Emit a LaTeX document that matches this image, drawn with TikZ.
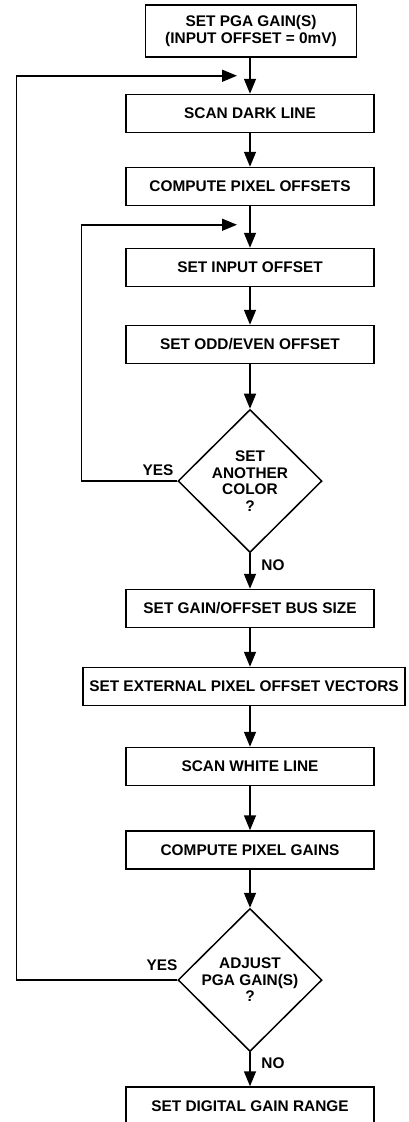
\documentclass[tikz,border=0pt]{standalone}
\usepackage{fontspec}
\setmainfont{Liberation Sans}
\usetikzlibrary{arrows.meta,shapes.geometric,calc}
\begin{document}
\begin{tikzpicture}[x=1pt,y=-1pt,
  every node/.style={font=\bfseries\fontsize{15.4}{16.6}\selectfont, align=center},
  box/.style={draw, line width=1.5pt, rectangle, minimum width=248pt, minimum height=38pt, inner sep=0pt},
  dia/.style={draw, line width=1.5pt, diamond, minimum width=144pt, minimum height=143pt, inner sep=0pt},
  lbl/.style={inner sep=0pt},
  flow/.style={line width=1.5pt, -{Triangle[length=15pt,width=12pt]}}]
\useasboundingbox (0,0) rectangle (408,1122);
\node[box, minimum width=211pt, minimum height=52pt] (b1) at (251,31) {SET PGA GAIN(S)\\(INPUT OFFSET = 0mV)};
\node[box] (b2) at (250,113.5) {SCAN DARK LINE};
\node[box] (b3) at (250,186.5) {COMPUTE PIXEL OFFSETS};
\node[box] (b4) at (250,267.5) {SET INPUT OFFSET};
\node[box] (b5) at (250,344.5) {SET ODD/EVEN OFFSET};
\node[dia] (d1) at (250,481) {};
\node (t1) at (d1) {SET\\ANOTHER\\COLOR\\?};
\node[box] (b6) at (250,608.5) {SET GAIN/OFFSET BUS SIZE};
\node[box, minimum width=322pt] (b7) at (244,686.5) {SET EXTERNAL PIXEL OFFSET VECTORS};
\node[box] (b8) at (250,766.5) {SCAN WHITE LINE};
\node[box] (b9) at (250,850) {COMPUTE PIXEL GAINS};
\node[dia] (d2) at (250,980) {};
\node (t2) at (d2) {ADJUST\\PGA GAIN(S)\\?};
\node[box] (b10) at (250,1106) {SET DIGITAL GAIN RANGE};

\coordinate (j1) at ($(b2.north)+(0,-18)$);
\coordinate (j2) at ($(b4.north)+(0,-23)$);

\draw[flow] (b2.north |- b1.south) -- (b2.north);
\draw[flow] (b2) -- (b3);
\draw[flow] (b3) -- (b4);
\draw[flow] (b4) -- (b5);
\draw[flow] (b5) -- (d1);
\draw[flow] (d1) -- (b6);
\draw[flow] (b6.south) -- (b6.south |- b7.north);
\draw[flow] (b8.north |- b7.south) -- (b8.north);
\draw[flow] (b8) -- (b9);
\draw[flow] (b9) -- (d2);
\draw[flow] (d2) -- (b10);

\draw[flow] (d1.west) -- ++(-96,0) |- ([xshift=-13pt]j2);
\draw[flow] (d2.west) -- ++(-161,0) |- ([xshift=-13pt]j1);

\node[lbl] (y1) at (158,470) {YES};
\node[lbl] (n1) at (273,565) {NO};
\node[lbl] (y2) at (162,965) {YES};
\node[lbl] (n2) at (273,1063) {NO};
\end{tikzpicture}
\end{document}
